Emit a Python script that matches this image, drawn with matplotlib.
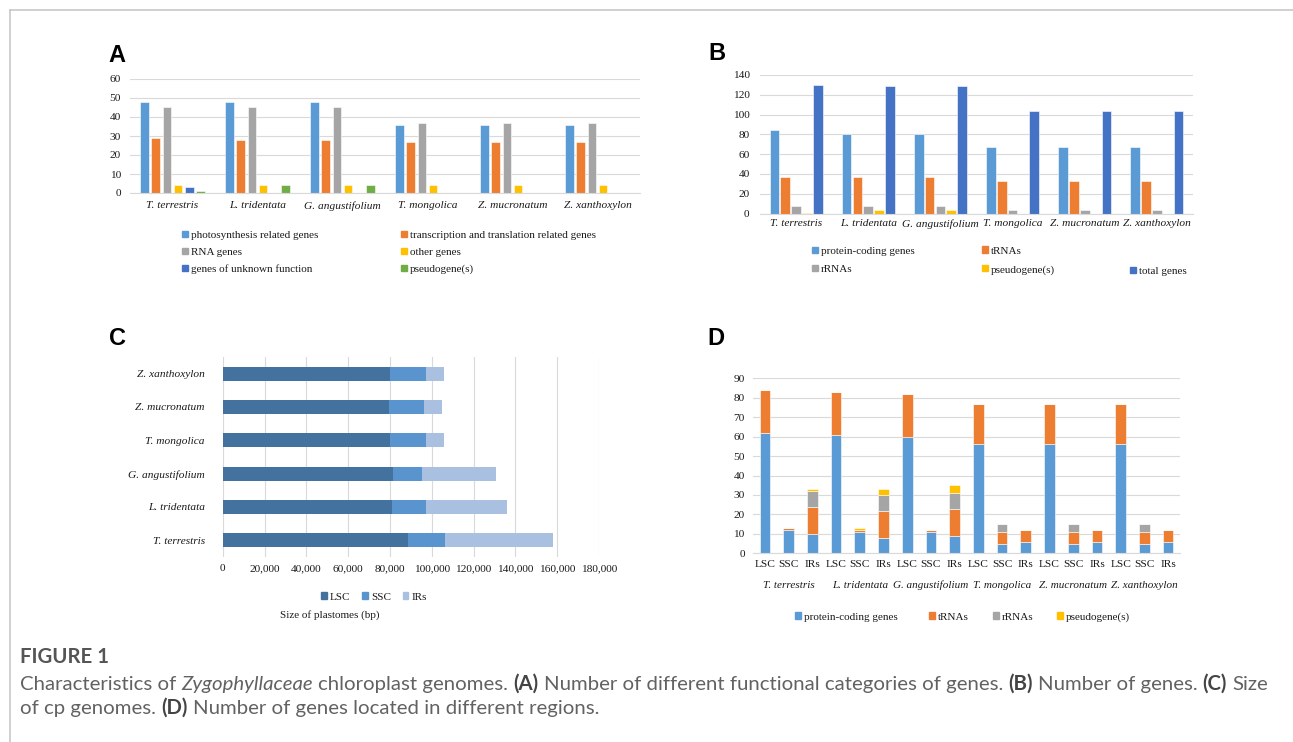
import matplotlib
matplotlib.use('Agg')
import matplotlib.pyplot as plt
import matplotlib.patches as mpatches
from matplotlib.lines import Line2D
from matplotlib.ticker import FuncFormatter
import numpy as np

species = ['T. terrestris', 'L. tridentata', 'G. angustifolium',
           'T. mongolica', 'Z. mucronatum', 'Z. xanthoxylon']

# A: functional categories of genes
a_labels = ['photosynthesis related genes', 'transcription and translation related genes',
            'RNA genes', 'other genes', 'genes of unknown function', 'pseudogene(s)']
a_photo = [48, 48, 48, 36, 36, 36]
a_trans = [29, 28, 28, 27, 27, 27]
a_rna = [45, 45, 45, 37, 37, 37]
a_other = [4, 4, 4, 4, 4, 4]
a_unknown = [3, 0, 0, 0, 0, 0]
a_pseudo = [1, 4, 4, 0, 0, 0]

# B: number of genes
b_labels = ['protein-coding genes', 'tRNAs', 'rRNAs', 'pseudogene(s)', 'total genes']
b_protein = [84, 80, 80, 67, 67, 67]
b_trna = [37, 37, 37, 33, 33, 33]
b_rrna = [8, 8, 8, 4, 4, 4]
b_pseudo = [1, 4, 4, 0, 0, 0]
b_total = [130, 129, 129, 104, 104, 104]

# C: plastome size (bp)
c_labels = ['LSC', 'SSC', 'IRs']
c_lsc = [88800, 81150, 81500, 80000, 79700, 80000]
c_ssc = [17600, 15950, 13700, 17400, 16600, 17100]
c_irs = [51800, 38750, 35400, 8600, 8800, 8600]

# D: genes per region
regions = ['LSC', 'SSC', 'IRs']
d_labels = ['protein-coding genes', 'tRNAs', 'rRNAs', 'pseudogene(s)']
d_protein = [62, 12, 10, 61, 11, 8, 60, 11, 9, 56, 5, 6, 56, 5, 6, 56, 5, 6]
d_trna = [22, 1, 14, 22, 1, 14, 22, 1, 14, 21, 6, 6, 21, 6, 6, 21, 6, 6]
d_rrna = [0, 0, 8, 0, 0, 8, 0, 0, 8, 0, 4, 0, 0, 4, 0, 0, 4, 0]
d_pseudo = [0, 0, 1, 0, 1, 3, 0, 0, 4, 0, 0, 0, 0, 0, 0, 0, 0, 0]

BLUE, ORANGE, GRAY, GOLD, DBLUE, GREEN = '#5B9BD5', '#ED7D31', '#A5A5A5', '#FFC000', '#4472C4', '#70AD47'
GRID = '#d9d9d9'
TXT = '#1a1a1a'

plt.rcParams['font.family'] = ['Liberation Serif', 'DejaVu Serif']

W, H = 1293, 742
fig = plt.figure(figsize=(W / 100, H / 100), dpi=100)


def box(l, t, r, b):
    return [l / W, 1 - b / H, (r - l) / W, (b - t) / H]


def style(ax, axis='y'):
    for s in ['top', 'right', 'left']:
        ax.spines[s].set_visible(False)
    ax.spines['bottom'].set_color(GRID)
    ax.grid(True, axis=axis, color=GRID, lw=0.8)
    ax.set_axisbelow(True)
    ax.tick_params(length=0, labelsize=8.2, colors=TXT)


def leg(labels, colors, x, y, ncol=1, spacing=0.7, colsp=1.0):
    hs = [mpatches.Patch(color=c) for c in colors]
    fig.legend(hs, labels, loc='center left', bbox_to_anchor=(x / W, 1 - y / H),
               ncol=ncol, frameon=False, fontsize=8, borderpad=0, borderaxespad=0,
               handlelength=0.5, handleheight=0.5, handletextpad=0.3,
               labelspacing=spacing, columnspacing=colsp, labelcolor=TXT)


def letter(s, x, y):
    fig.text(x / W, 1 - y / H, s, fontsize=17, fontweight='bold', family='Liberation Sans',
             ha='center', va='center')


# figure frame
fig.add_artist(Line2D([10 / W, 10 / W], [0, 1 - 10 / H], color='#c8c8c8', lw=1.2, transform=fig.transFigure))
fig.add_artist(Line2D([10 / W, 1], [1 - 10 / H, 1 - 10 / H], color='#c8c8c8', lw=1.2, transform=fig.transFigure))

x = np.arange(len(species))

# ---- A
axA = fig.add_axes(box(130, 79, 640, 193))
a_series = [a_photo, a_trans, a_rna, a_other, a_unknown, a_pseudo]
a_colors = [BLUE, ORANGE, GRAY, GOLD, DBLUE, GREEN]
for i, (vals, col) in enumerate(zip(a_series, a_colors)):
    axA.bar(x + (i - 2.5) * 0.132, vals, 0.102, color=col, edgecolor='white', lw=0.4)
axA.set_xlim(-0.5, 5.5)
axA.set_ylim(0, 60)
axA.set_yticks(range(0, 61, 10))
axA.set_xticks(x, species, fontstyle='italic')
style(axA)
axA.tick_params(axis='x', pad=6)
axA.tick_params(axis='y', pad=6.5)
letter('A', 117, 55)
leg([a_labels[0], a_labels[2], a_labels[4]], [BLUE, GRAY, DBLUE], 182, 252.5, spacing=0.68)
leg([a_labels[1], a_labels[3], a_labels[5]], [ORANGE, GOLD, GREEN], 401, 252.5, spacing=0.68)

# ---- B
axB = fig.add_axes(box(760, 75, 1193, 213.5))
b_series = [b_protein, b_trna, b_rrna, b_pseudo, b_total]
b_colors = [BLUE, ORANGE, GRAY, GOLD, DBLUE]
for i, (vals, col) in enumerate(zip(b_series, b_colors)):
    axB.bar(x + (i - 2) * 0.15, vals, 0.134, color=col, edgecolor='white', lw=0.4)
axB.set_xlim(-0.5, 5.5)
axB.set_ylim(0, 140)
axB.set_yticks(range(0, 141, 20))
axB.set_xticks(x, species, fontstyle='italic')
style(axB)
axB.tick_params(axis='x', pad=4)
axB.tick_params(axis='y', pad=7.5)
letter('B', 717, 54)
leg([b_labels[0], b_labels[2]], [BLUE, GRAY], 812, 260.5, spacing=0.84)
leg([b_labels[1], b_labels[3]], [ORANGE, GOLD], 982, 260.5, spacing=0.84)
leg([b_labels[4]], [DBLUE], 1130, 271.5)

# ---- C
axC = fig.add_axes(box(222.7, 357, 599, 557))
axC.barh(x, c_lsc, 0.42, color='#44729F')
axC.barh(x, c_ssc, 0.42, left=c_lsc, color='#5A94CF')
axC.barh(x, c_irs, 0.42, left=np.add(c_lsc, c_ssc), color='#A9C0E1')
axC.set_ylim(-0.5, 5.5)
axC.set_xlim(0, 180000)
axC.set_xticks(range(0, 180001, 20000))
axC.xaxis.set_major_formatter(FuncFormatter(lambda v, p: '{:,}'.format(int(v))))
axC.set_yticks(x, species, fontstyle='italic')
style(axC, axis='x')
axC.spines['bottom'].set_visible(False)
axC.tick_params(axis='x', pad=5)
axC.tick_params(axis='y', pad=13)
letter('C', 117, 338)
leg(c_labels, ['#44729F', '#5A94CF', '#A9C0E1'], 321, 597, ncol=3, colsp=1.05)
fig.text(330 / W, 1 - 615 / H, 'Size of plastomes (bp)', fontsize=8, color=TXT, ha='center', va='center')

# ---- D
axD = fig.add_axes(box(753, 378.3, 1180, 553.3))
xd = np.arange(len(d_protein))
bottom = np.zeros(len(xd))
for vals, col in zip([d_protein, d_trna, d_rrna, d_pseudo], [BLUE, ORANGE, GRAY, GOLD]):
    axD.bar(xd, vals, 0.45, bottom=bottom, color=col, edgecolor='white', lw=0.4)
    bottom += vals
axD.set_xlim(-0.5, 17.5)
axD.set_ylim(0, 90)
axD.set_yticks(range(0, 91, 10))
axD.set_xticks(xd, regions * len(species))
style(axD)
axD.tick_params(axis='x', pad=5)
axD.tick_params(axis='y', pad=6)
for g, sp in enumerate(species):
    axD.annotate(sp, xy=(3 * g + 1, 0), xycoords=('data', 'axes fraction'),
                 xytext=(0, -23), textcoords='offset points', ha='center', va='center',
                 fontsize=8, fontstyle='italic', color=TXT)
letter('D', 716, 338)
for lab, col, lx in zip(d_labels, [BLUE, ORANGE, GRAY, GOLD], [795, 929, 993, 1057]):
    leg([lab], [col], lx, 617)

# ---- caption
r = fig.canvas.get_renderer()
CAP = '#626262'
cap_font = 'Lato'


def tw(s, **kw):
    t = fig.text(0, 0, s, **kw)
    w = t.get_window_extent(r).width
    t.remove()
    return w


line1 = [('Characteristics of', {}), ('Zygophyllaceae', {'fontstyle': 'italic'}),
         ('chloroplast genomes.', {}), ('(A)', {'fontweight': 'bold'}),
         ('Number of different functional categories of genes.', {}), ('(B)', {'fontweight': 'bold'}),
         ('Number of genes.', {}), ('(C)', {'fontweight': 'bold'}), ('Size', {})]
line2 = [('of cp genomes.', {}), ('(D)', {'fontweight': 'bold'}),
         ('Number of genes located in different regions.', {})]

# pick a size so the first line spans the same width as in the figure
base = 12
sp = tw('a a', family=cap_font, fontsize=base) - tw('aa', family=cap_font, fontsize=base)
w1 = sum(tw(s, family=cap_font, fontsize=base, **kw) for s, kw in line1) + sp * (len(line1) - 1)
size = base * 1242 / w1
sp = sp * size / base


def cap_line(parts, y):
    xx = 20
    for s, kw in parts:
        col = '#444444' if kw.get('fontweight') == 'bold' else CAP
        t = fig.text(xx / W, 1 - y / H, s, family=cap_font, fontsize=size, color=col, va='baseline', **kw)
        xx += t.get_window_extent(r).width + sp


fig.text(20 / W, 1 - 663 / H, 'FIGURE 1', family=cap_font, fontsize=size, fontweight='bold',
         color='#555555', va='baseline')
cap_line(line1, 690)
cap_line(line2, 714)

fig.savefig('out.png', dpi=100)
